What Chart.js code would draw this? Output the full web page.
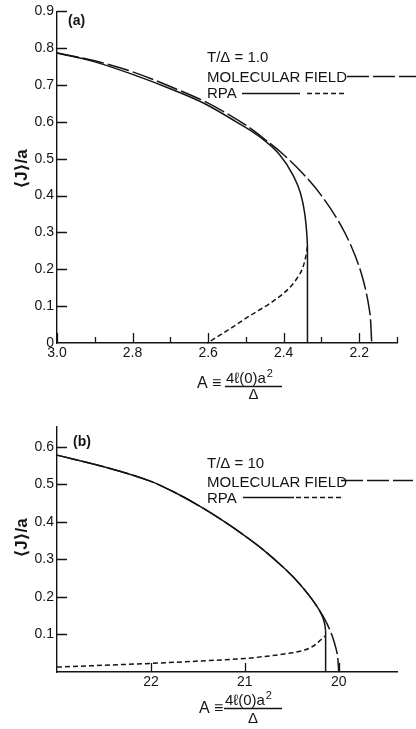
<!DOCTYPE html>
<html>
<head>
<meta charset="utf-8">
<script src="https://cdn.jsdelivr.net/npm/chart.js@4/dist/chart.umd.min.js"></script>
<style>
  html, body { margin: 0; padding: 0; background: #fff; }
  #wrap { position: relative; width: 416px; height: 729px; overflow: hidden; background: #fff; }
  canvas { position: absolute; left: 0; }
  #cA { top: 0; }
  #cB { top: 410px; }
</style>
</head>
<body>
<div id="wrap">
  <canvas id="cA" width="416" height="410"></canvas>
  <canvas id="cB" width="416" height="319"></canvas>
</div>
<script>
// ---------- Panel (a): T/Δ = 1.0 ----------
const aMolecularA = [3.0, 2.9, 2.8, 2.7, 2.6, 2.5, 2.45, 2.4, 2.35, 2.3, 2.25, 2.22, 2.2, 2.19, 2.18, 2.175, 2.17, 2.167];
const aMolecularJ = [0.787, 0.766, 0.736, 0.696, 0.651, 0.591, 0.553, 0.511, 0.461, 0.400, 0.322, 0.260, 0.207, 0.173, 0.130, 0.102, 0.062, 0.0];

const aRpaStableA = [3.0, 2.9, 2.8, 2.7, 2.61, 2.53, 2.46, 2.41, 2.375, 2.355, 2.344, 2.339, 2.337];
const aRpaStableJ = [0.787, 0.763, 0.729, 0.690, 0.650, 0.603, 0.557, 0.510, 0.455, 0.405, 0.350, 0.300, 0.262];

const aRpaJumpA = [2.337, 2.337];
const aRpaJumpJ = [0.262, 0.0];

const aRpaUnstableA = [2.337, 2.342, 2.35, 2.365, 2.38, 2.40, 2.44, 2.488, 2.54, 2.602];
const aRpaUnstableJ = [0.262, 0.232, 0.203, 0.175, 0.155, 0.135, 0.105, 0.075, 0.040, 0.0];

const aXTicks = [3.0, 2.9, 2.8, 2.7, 2.6, 2.5, 2.4, 2.3, 2.2, 2.1];
const aXLabelled = [3.0, 2.8, 2.6, 2.4, 2.2];
const aYTicks = [0, 0.1, 0.2, 0.3, 0.4, 0.5, 0.6, 0.7, 0.8, 0.9];

// ---------- Panel (b): T/Δ = 10 ----------
const bMolecularA = [23.0, 22.5, 22.0, 21.75, 21.5, 21.25, 21.0, 20.8, 20.6, 20.45, 20.3, 20.21, 20.15, 20.1, 20.06, 20.03, 20.01, 20.0];
const bMolecularJ = [0.578, 0.547, 0.508, 0.479, 0.445, 0.406, 0.363, 0.325, 0.281, 0.244, 0.199, 0.166, 0.141, 0.115, 0.089, 0.063, 0.036, 0.0];

const bRpaStableA = [23.0, 22.5, 22.0, 21.75, 21.5, 21.25, 21.0, 20.8, 20.6, 20.45, 20.3, 20.21, 20.17, 20.15, 20.14];
const bRpaStableJ = [0.578, 0.547, 0.508, 0.479, 0.445, 0.406, 0.363, 0.325, 0.281, 0.244, 0.199, 0.166, 0.145, 0.128, 0.110];

const bRpaJumpA = [20.14, 20.14];
const bRpaJumpJ = [0.110, 0.0];

const bRpaUnstableA = [23.0, 22.5, 22.0, 21.5, 21.0, 20.7, 20.5, 20.4, 20.3, 20.24, 20.19, 20.14];
const bRpaUnstableJ = [0.013, 0.018, 0.023, 0.029, 0.036, 0.044, 0.051, 0.056, 0.065, 0.075, 0.086, 0.097];

const bXTicks = [22, 21, 20];
const bXLabelled = [22, 21, 20];
const bYTicks = [0.1, 0.2, 0.3, 0.4, 0.5, 0.6];

// ---------- shared styling ----------
const INK = '#141414';
const FONT = "'Liberation Sans', Arial, 'DejaVu Sans', sans-serif";
const LONG_DASH = [22, 4];
const SHORT_DASH = [5, 3];

Chart.defaults.font.family = FONT;
Chart.defaults.color = INK;

function points(xs, ys) {
  return xs.map((x, i) => ({ x: x, y: ys[i] }));
}

function curve(xs, ys, dash) {
  return {
    data: points(xs, ys),
    showLine: true,
    borderColor: INK,
    borderWidth: 1.5,
    borderDash: dash,
    pointRadius: 0,
    pointHoverRadius: 0,
    cubicInterpolationMode: 'monotone',
    fill: false,
    clip: false
  };
}

// Tick marks drawn on the inside of the frame, as in the printed figure
const inwardTicks = {
  id: 'inwardTicks',
  afterDraw(chart, args, opts) {
    const ctx = chart.ctx;
    const area = chart.chartArea;
    const xs = chart.scales.x, ys = chart.scales.y;
    ctx.save();
    ctx.strokeStyle = INK;
    ctx.lineWidth = 1.3;
    ctx.setLineDash([]);
    ctx.beginPath();
    xs.ticks.forEach(t => {
      const px = Math.round(xs.getPixelForValue(t.value)) + 0.5;
      const len = opts.xMajor.includes(t.value) ? opts.majorLen : opts.minorLen;
      ctx.moveTo(px, area.bottom);
      ctx.lineTo(px, area.bottom - len);
    });
    ys.ticks.forEach(t => {
      if (t.value === 0) return;
      const py = Math.round(ys.getPixelForValue(t.value)) + 0.5;
      ctx.moveTo(area.left, py);
      ctx.lineTo(area.left + opts.yLen, py);
    });
    ctx.stroke();
    ctx.restore();
  }
};

// Panel letter, legend key, axis titles
const figureText = {
  id: 'figureText',
  afterDraw(chart, args, o) {
    const ctx = chart.ctx;
    ctx.save();
    ctx.fillStyle = INK;
    ctx.strokeStyle = INK;
    ctx.textBaseline = 'alphabetic';
    ctx.textAlign = 'left';

    // panel letter
    ctx.font = 'bold 14px ' + FONT;
    ctx.fillText(o.panel, o.panelX, o.panelY);

    // legend key
    ctx.font = '15px ' + FONT;
    ctx.fillText(o.header, o.keyX, o.headerY);
    ctx.fillText('MOLECULAR FIELD', o.keyX, o.mfY);
    ctx.fillText('RPA', o.keyX, o.rpaY);

    ctx.lineWidth = 1.5;
    ctx.setLineDash(LONG_DASH);
    ctx.beginPath();
    ctx.moveTo(o.mfLine[0], o.mfLine[2]);
    ctx.lineTo(o.mfLine[1], o.mfLine[2]);
    ctx.stroke();

    ctx.setLineDash([]);
    ctx.beginPath();
    ctx.moveTo(o.rpaSolid[0], o.rpaSolid[2]);
    ctx.lineTo(o.rpaSolid[1], o.rpaSolid[2]);
    ctx.stroke();

    ctx.setLineDash(SHORT_DASH);
    ctx.beginPath();
    ctx.moveTo(o.rpaDash[0], o.rpaDash[2]);
    ctx.lineTo(o.rpaDash[1], o.rpaDash[2]);
    ctx.stroke();
    ctx.setLineDash([]);

    // x-axis title: A ≡ 4ℓ(0)a² / Δ
    const t = o.xTitle;
    ctx.font = '16px ' + FONT;
    ctx.fillText('A ≡', t.x, t.aY);
    ctx.font = '15px ' + FONT;
    ctx.fillText('4ℓ(0)a', t.numX, t.numY);
    const numW = ctx.measureText('4ℓ(0)a').width;
    ctx.font = '11px ' + FONT;
    ctx.fillText('2', t.numX + numW + 1, t.numY - 6);
    ctx.lineWidth = 1.3;
    ctx.beginPath();
    ctx.moveTo(t.barX0, t.barY + 0.5);
    ctx.lineTo(t.barX1, t.barY + 0.5);
    ctx.stroke();
    ctx.font = '15px ' + FONT;
    ctx.textAlign = 'center';
    ctx.fillText('Δ', (t.barX0 + t.barX1) / 2, t.denY);

    // y-axis title: ⟨J⟩/a
    ctx.translate(o.yTitle.x, o.yTitle.y);
    ctx.rotate(-Math.PI / 2);
    ctx.font = 'bold 17px ' + FONT;
    ctx.textAlign = 'center';
    ctx.textBaseline = 'middle';
    ctx.fillText('⟨J⟩/a', 0, 0);
    ctx.restore();
  }
};

function makeScales(xMin, xMax, xTicks, xLabelled, yMin, yMax, yTicks, xHeight, xFmt) {
  return {
    x: {
      type: 'linear',
      reverse: true,
      min: xMin,
      max: xMax,
      afterBuildTicks: s => { s.ticks = xTicks.map(v => ({ value: v })); },
      afterFit: s => { s.height = xHeight; },
      grid: { display: false, drawTicks: false },
      border: { display: true, color: INK, width: 1.4 },
      ticks: {
        autoSkip: false,
        maxRotation: 0,
        padding: 2,
        color: INK,
        font: { size: 14 },
        callback: v => xLabelled.includes(v) ? xFmt(v) : ''
      }
    },
    y: {
      type: 'linear',
      min: yMin,
      max: yMax,
      afterBuildTicks: s => { s.ticks = yTicks.map(v => ({ value: v })); },
      afterFit: s => { s.width = 57; },
      grid: { display: false, drawTicks: false },
      border: { display: true, color: INK, width: 1.4 },
      ticks: {
        autoSkip: false,
        padding: 3,
        color: INK,
        font: { size: 14 },
        callback: v => v === 0 ? '0' : v.toFixed(1)
      }
    }
  };
}

// ---------- chart (a) ----------
new Chart(document.getElementById('cA'), {
  type: 'scatter',
  data: {
    datasets: [
      curve(aRpaStableA, aRpaStableJ, []),
      curve(aRpaJumpA, aRpaJumpJ, []),
      curve(aRpaUnstableA, aRpaUnstableJ, SHORT_DASH),
      curve(aMolecularA, aMolecularJ, LONG_DASH)
    ]
  },
  options: {
    responsive: false,
    animation: false,
    devicePixelRatio: 1,
    layout: { padding: { left: 0, right: 19, top: 9, bottom: 0 } },
    scales: makeScales(2.1, 3.0, aXTicks, aXLabelled, 0, 0.9, aYTicks, 67, v => v.toFixed(1)),
    plugins: {
      legend: { display: false },
      tooltip: { enabled: false },
      inwardTicks: { xMajor: aXLabelled, majorLen: 10, minorLen: 6, yLen: 10 },
      figureText: {
        panel: '(a)', panelX: 68, panelY: 25,
        header: 'T/Δ = 1.0', keyX: 207, headerY: 62, mfY: 82, rpaY: 98,
        mfLine: [347, 416, 76.5], rpaSolid: [242, 300, 93.5], rpaDash: [307, 347, 93.5],
        xTitle: { x: 197, aY: 388, numX: 226, numY: 383, barX0: 225, barX1: 282, barY: 386, denY: 399 },
        yTitle: { x: 22, y: 169 }
      }
    }
  },
  plugins: [inwardTicks, figureText]
});

// ---------- chart (b) ----------
new Chart(document.getElementById('cB'), {
  type: 'scatter',
  data: {
    datasets: [
      curve(bRpaStableA, bRpaStableJ, []),
      curve(bRpaJumpA, bRpaJumpJ, []),
      curve(bRpaUnstableA, bRpaUnstableJ, SHORT_DASH),
      curve(bMolecularA, bMolecularJ, LONG_DASH)
    ]
  },
  options: {
    responsive: false,
    animation: false,
    devicePixelRatio: 1,
    layout: { padding: { left: 0, right: 19, top: 17, bottom: 0 } },
    scales: makeScales(19.38, 23.0, bXTicks, bXLabelled, 0, 0.653, bYTicks, 57, v => String(v)),
    plugins: {
      legend: { display: false },
      tooltip: { enabled: false },
      inwardTicks: { xMajor: bXLabelled, majorLen: 9, minorLen: 6, yLen: 10 },
      figureText: {
        panel: '(b)', panelX: 73, panelY: 36,
        header: 'T/Δ = 10', keyX: 207, headerY: 58, mfY: 77, rpaY: 93,
        mfLine: [341, 413, 70.5], rpaSolid: [243, 294, 87.5], rpaDash: [296, 342, 87.5],
        xTitle: { x: 199, aY: 303, numX: 225, numY: 295, barX0: 224, barX1: 282, barY: 298, denY: 313 },
        yTitle: { x: 22, y: 128 }
      }
    }
  },
  plugins: [inwardTicks, figureText]
});
</script>
</body>
</html>
